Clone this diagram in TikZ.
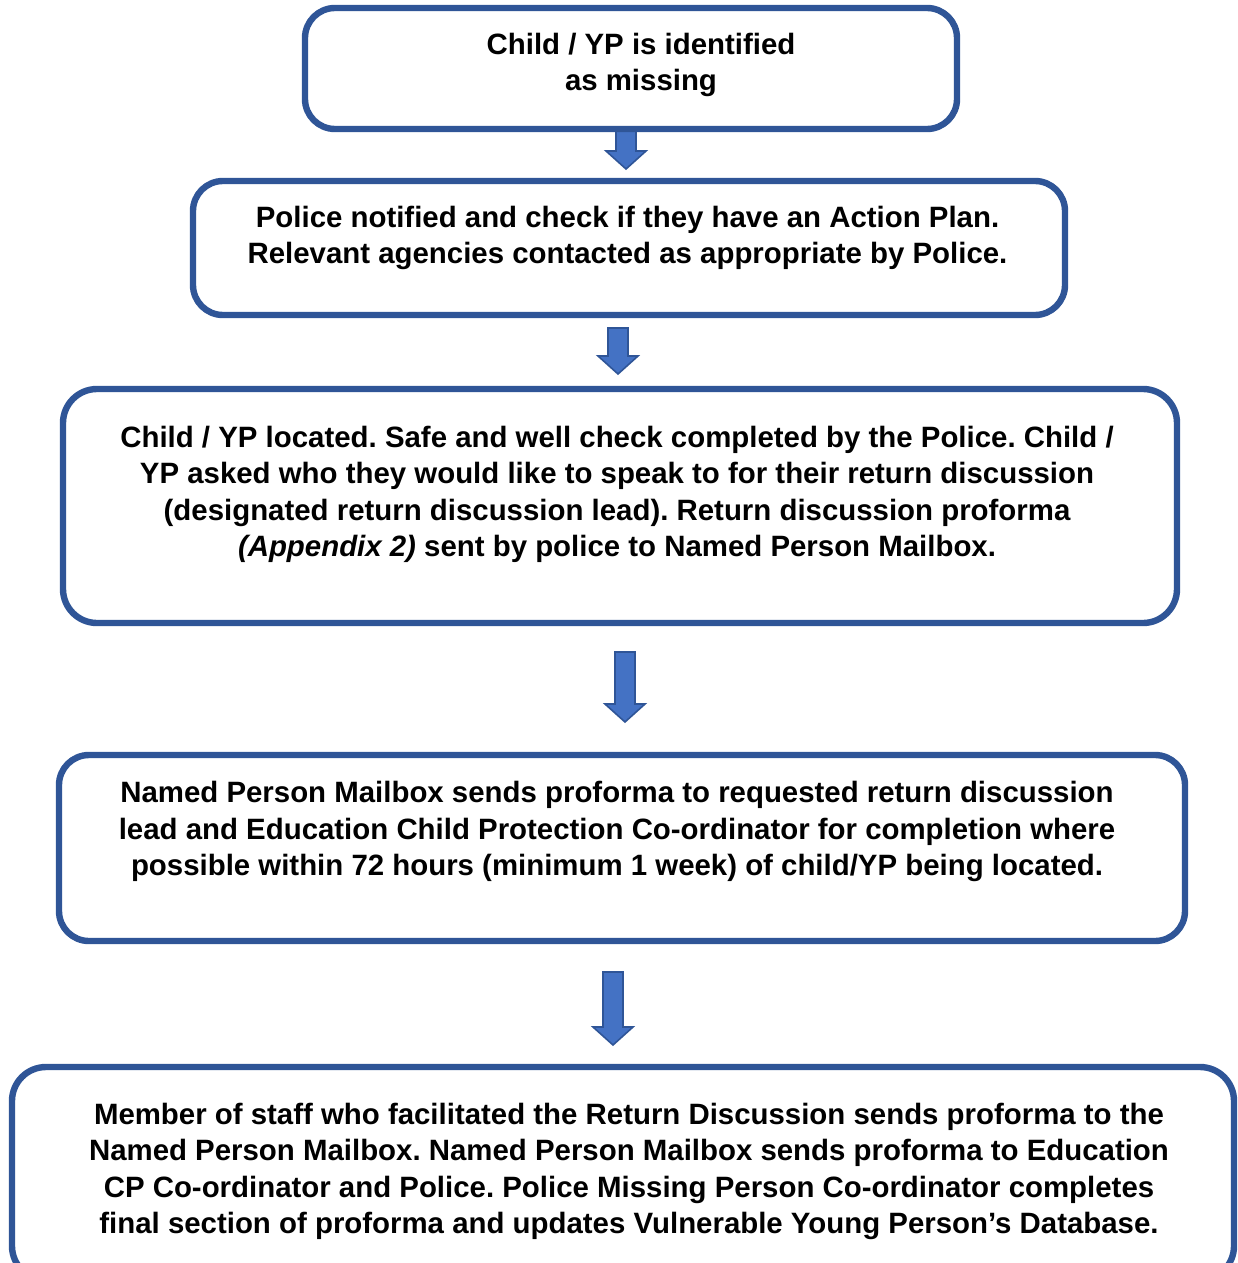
\documentclass[tikz,border=0pt]{standalone}
\usepackage{fontspec}
\setmainfont{Liberation Sans}
\definecolor{boxblue}{HTML}{2F5597}
\definecolor{arrowblue}{HTML}{4472C4}

\begin{document}
\frenchspacing
\begin{tikzpicture}[x=0.5pt,y=-0.5pt,
    box/.style={draw=boxblue, line width=3.2pt, rounded corners=15pt, fill=white},
    txt/.style={align=center, font=\fontsize{14.7}{18.2}\selectfont\bfseries},
    arrowline/.style={draw=boxblue, line width=0.8pt, fill=arrowblue}]
        % --- Page ---
        \useasboundingbox (0,0) rectangle (1237,1263);
        % --- Block arrows (drawn first, boxes sit on top) ---
        \newcommand{\flowarrow}[3]{%
          \draw[arrowline] (#1-10,#2) -- (#1+10,#2) -- (#1+10,#3-18) -- (#1+20,#3-18)
            -- (#1,#3) -- (#1-20,#3-18) -- (#1-10,#3-18) -- cycle;}
        \flowarrow{626}{128}{169}
        \flowarrow{618}{328}{374}
        \flowarrow{625}{652}{722}
        \flowarrow{613}{972}{1045}
        % --- Boxes ---
        \node[box, minimum width=326pt, minimum height=60.5pt] (box1) at (631,68.5) {};
        \node[box, minimum width=436pt, minimum height=67pt] (box2) at (629,248) {};
        \node[box, minimum width=557pt, minimum height=117pt, rounded corners=17pt] (box3) at (620,506) {};
        \node[box, minimum width=563pt, minimum height=93pt] (box4) at (622,848) {};
        \node[box, minimum width=611pt, minimum height=106.5pt, rounded corners=17pt] (box5) at (623,1173.5) {};
        % --- Texts ---
        \node[txt] (txt1) at (641,65) {Child / YP is identified\\as missing};
        \node[txt] (txt2) at (627.5,238) {Police notified and check if they have an Action Plan.\\
          Relevant agencies contacted as appropriate by Police.};
        \node[txt] (txt3) at (617,494.5) {Child / YP located. Safe and well check completed by the Police. Child /\\
          YP asked who they would like to speak to for their return discussion\\
          (designated return discussion lead). Return discussion proforma\\
          \textit{(Appendix 2)} sent by police to Named Person Mailbox.};
        \node[txt] (txt4) at (617,831.5) {Named Person Mailbox sends proforma to requested return discussion\\
          lead and Education Child Protection Co-ordinator for completion where\\
          possible within 72 hours (minimum 1 week) of child/YP being located.};
        \node[txt] (txt5) at (629,1171.5) {Member of staff who facilitated the Return Discussion sends proforma to the\\
          Named Person Mailbox. Named Person Mailbox sends proforma to Education\\
          CP Co-ordinator and Police. Police Missing Person Co-ordinator completes\\
          final section of proforma and updates Vulnerable Young Person’s Database.};
\end{tikzpicture}
\end{document}
